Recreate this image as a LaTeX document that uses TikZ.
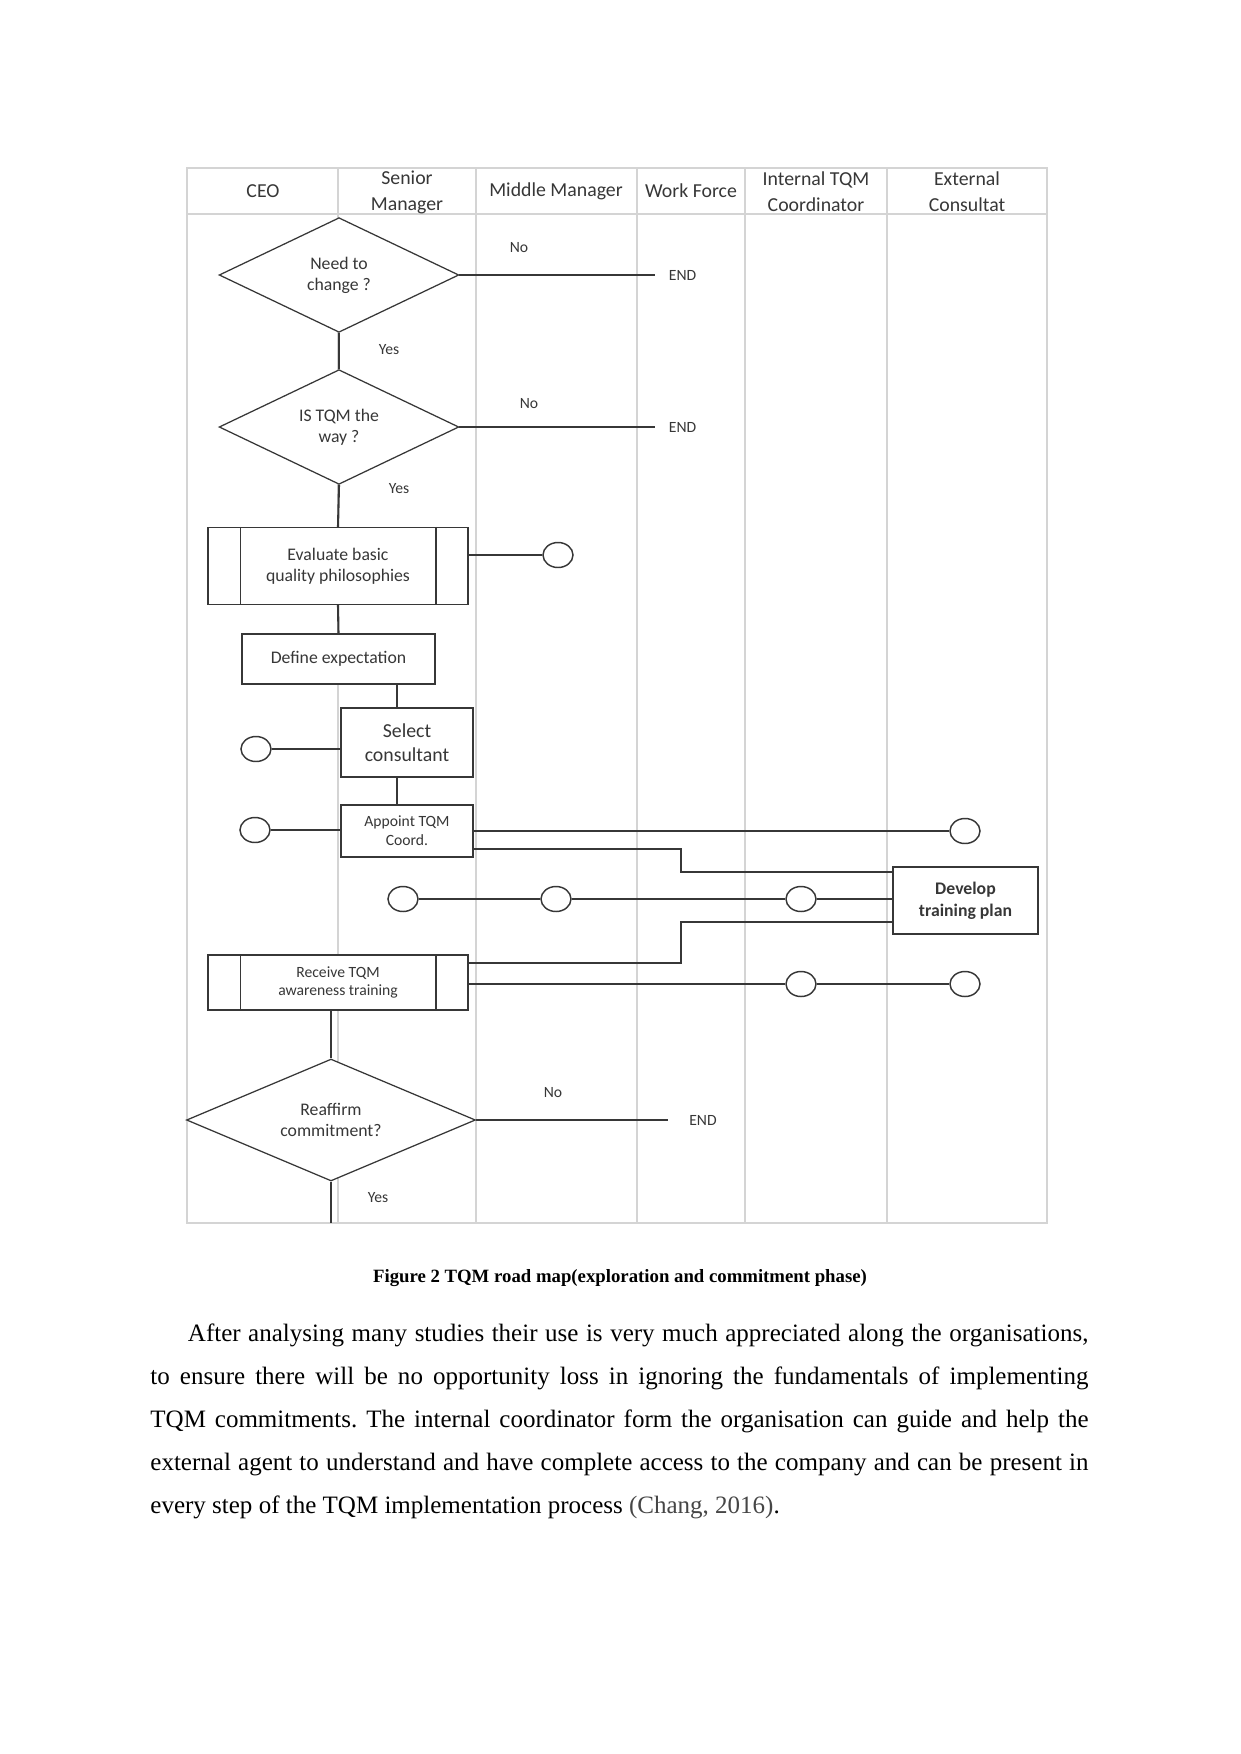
\documentclass[tikz,border=0pt]{standalone}
\usepackage{fontspec}
\setmainfont{Liberation Serif}
\newfontfamily\chartfont{Carlito}
\newfontfamily\bodyfont{Liberation Serif}
\usepackage{xcolor}
\usetikzlibrary{shapes.geometric, positioning, calc}

\definecolor{lanegray}{RGB}{212,212,212}
\definecolor{inkgray}{RGB}{55,55,55}
\definecolor{citegray}{RGB}{70,70,70}

\frenchspacing

\begin{document}
\begin{tikzpicture}[
  x=0.4797pt,
  y=-0.4797pt,
  font=\chartfont\fontsize{8.5}{10}\selectfont,
  text=inkgray,
  lanegrid/.style={
    draw=lanegray,
    line width=0.6pt
  },
  lanetitle/.style={
    align=center,
    inner sep=0pt,
    font=\chartfont\fontsize{9.5}{12.4}\selectfont
  },
  decisionbox/.style={
    diamond,
    draw=inkgray,
    fill=white,
    line width=0.6pt,
    align=center,
    inner sep=0pt,
    shape aspect=2.2,
    minimum width=115pt,
    minimum height=55pt
  },
  processbox/.style={
    rectangle,
    draw=inkgray,
    fill=white,
    line width=0.7pt,
    align=center,
    inner sep=2pt
  },
  linkcircle/.style={
    ellipse,
    draw=inkgray,
    fill=white,
    line width=0.7pt,
    minimum width=14.4pt,
    minimum height=12pt,
    inner sep=0pt
  },
  flowline/.style={
    draw=inkgray,
    line width=1pt
  },
  answerlabel/.style={
    inner sep=1pt,
    font=\chartfont\fontsize{7.5}{9}\selectfont
  },
  endlabel/.style={
    anchor=west,
    inner xsep=6.5pt,
    font=\chartfont\fontsize{7.5}{9}\selectfont
  }
]
\useasboundingbox (0,0) rectangle (1241,1754);

% swim lanes
\draw[lanegrid] (187,168) rectangle (1047,1223);
\draw[lanegrid] (187,214) -- (1047,214);
\foreach \lx in {338,476,637,745,887}
  \draw[lanegrid] (\lx,168) -- (\lx,1223);

\node[lanetitle] (ceo) at (263,191) {CEO};
\node[lanetitle] (senior) at (407,192) {Senior\\Manager};
\node[lanetitle] (middle) at (556,191) {Middle Manager};
\node[lanetitle] (workforce) at (691,191) {Work Force};
\node[lanetitle] (internal) at (816,192) {Internal TQM\\Coordinator};
\node[lanetitle] (external) at (967,192) {External\\Consultat};

% decisions
\node[decisionbox] (needchange) at (339,275) {Need to\\change ?};
\node[decisionbox] (tqmway) at (339,427) {IS TQM the\\way ?};
\node[decisionbox, minimum width=138.6pt, minimum height=58.5pt] (reaffirm) at (331,1120) {Reaffirm\\commitment?};

% process steps
\node[processbox, minimum width=124.7pt, minimum height=36.9pt] (evaluate) at (338,566) {Evaluate basic\\quality philosophies};
\node[processbox, minimum width=92.6pt, minimum height=24pt] (define) at (338.5,659) {Define expectation};
\node[processbox, minimum width=63.3pt, minimum height=33.1pt,
  font=\chartfont\fontsize{9.5}{11.5}\selectfont] (select) at (407,742.5) {Select\\consultant};
\node[processbox, minimum width=63.3pt, minimum height=25pt,
  font=\chartfont\fontsize{7.5}{9}\selectfont] (appoint) at (407,831) {Appoint TQM\\Coord.};
\node[processbox, minimum width=69.6pt, minimum height=32.1pt,
  font=\chartfont\bfseries\fontsize{8.5}{10.5}\selectfont] (develop) at (965.5,900.5) {Develop\\training plan};
\node[processbox, minimum width=124.7pt, minimum height=26.4pt,
  font=\chartfont\fontsize{7.5}{9}\selectfont] (receive) at (338,982.5) {Receive TQM\\awareness training};

% side bars of the predefined steps
\foreach \sp in {evaluate,receive} {
  \draw[inkgray, line width=0.7pt] ([xshift=15.8pt]\sp.north west) -- ([xshift=15.8pt]\sp.south west);
  \draw[inkgray, line width=0.7pt] ([xshift=-15.8pt]\sp.north east) -- ([xshift=-15.8pt]\sp.south east);
}

% connectors
\node[linkcircle] (evalend) at (558,555) {};
\node[linkcircle] (selectceo) at (256,749) {};
\node[linkcircle] (appointceo) at (255,830) {};
\node[linkcircle] (appointext) at (965,831) {};
\node[linkcircle] (planceo) at (403,899) {};
\node[linkcircle] (planmid) at (556,899) {};
\node[linkcircle] (planint) at (801,899) {};
\node[linkcircle] (trainint) at (801,984) {};
\node[linkcircle] (trainext) at (965,984) {};

% answers
\node[answerlabel] (no1) at (519,248) {No};
\node[answerlabel] (yes1) at (389,350) {Yes};
\node[answerlabel] (no2) at (529,404) {No};
\node[answerlabel] (yes2) at (399,489) {Yes};
\node[answerlabel] (no3) at (553,1093) {No};
\node[answerlabel] (yes3) at (378,1198) {Yes};
\node[endlabel] (end1) at (655,275) {END};
\node[endlabel] (end2) at (655,427) {END};
\node[endlabel, inner xsep=10pt] (end3) at (668,1120) {END};

\coordinate (lanefoot) at (331,1223);
\coordinate (upbend) at (681,872);
\coordinate (lowbend) at (681,963);

\draw[flowline] (needchange.south) -- (tqmway.north);
\draw[flowline] (tqmway.south) -- (evaluate.north);
\draw[flowline] (evaluate.south) -- (define.north);
\draw[flowline] ([xshift=-4.8pt]select.north) -- ([xshift=-4.8pt]select.north |- define.south);
\draw[flowline] ([xshift=-4.8pt]select.south) -- ([xshift=-4.8pt]appoint.north);
\draw[flowline] (receive.south -| reaffirm.north) -- (reaffirm.north);
\draw[flowline] (reaffirm.south) -- (lanefoot);

\draw[flowline] (needchange.east) -- (end1.west);
\draw[flowline] (tqmway.east) -- (end2.west);
\draw[flowline] (reaffirm.east) -- (end3.west);

\draw[flowline] (evalend.west) -- (evalend.west -| evaluate.east);
\draw[flowline] (selectceo.east) -- (selectceo.east -| select.west);
\draw[flowline] (appointceo.east) -- (appointceo.east -| appoint.west);
\draw[flowline] (appointext.west -| appoint.east) -- (appointext.west);
\draw[flowline] ([yshift=-8.6pt]appoint.east) -| (upbend) -- (upbend -| develop.west);
\draw[flowline] (planceo.east) -- (planmid.west) (planmid.east) -- (planint.west)
  (planint.east) -- (planint.east -| develop.west);
\draw[flowline] ([yshift=-10.3pt]develop.west) -| (lowbend) -- (lowbend -| receive.east);
\draw[flowline] (trainint.west -| receive.east) -- (trainint.west)
  (trainint.east) -- (trainext.west);

% caption and text
\node[text=black, font=\bodyfont\bfseries\fontsize{9}{11}\selectfont] (caption) at (620,1278)
  {Figure 2 TQM road map(exploration and commitment phase)};
\node[text=black, anchor=north west, text width=450pt, align=justify, inner sep=0pt,
  font=\bodyfont\fontsize{12}{20.7}\selectfont] (para) at (150,1323)
  {\hspace*{18pt}After analysing many studies their use is very much appreciated along the organisations,\linebreak
  to ensure there will be no opportunity loss in ignoring the fundamentals of implementing\linebreak
  TQM commitments. The internal coordinator form the organisation can guide and help the\linebreak
  external agent to understand and have complete access to the company and can be present in\linebreak
  every step of the TQM implementation process {\color{citegray}(Chang, 2016)}.};

\end{tikzpicture}
\end{document}
